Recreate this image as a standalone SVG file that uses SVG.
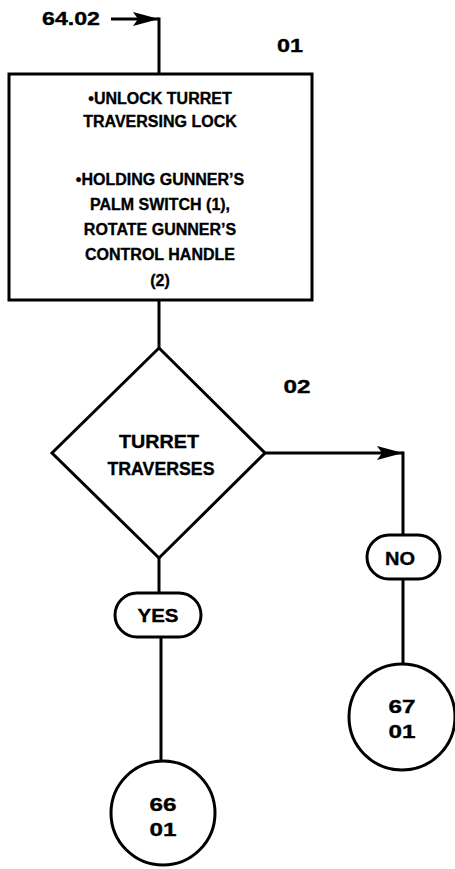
<svg xmlns="http://www.w3.org/2000/svg" width="455" height="869" viewBox="0 0 455 869">
<defs>
<style>
.ln{fill:none;stroke:#000;stroke-width:3}
.sh{fill:#fff;stroke:#000;stroke-width:3}
.t{font-family:"Liberation Sans",Arial,sans-serif;font-weight:bold;font-size:16px;fill:#000;stroke:#000;stroke-width:0.35;text-anchor:middle}
.b{font-size:18px}
</style>
<marker id="ah" viewBox="0 0 26 14" refX="26" refY="7" markerWidth="26" markerHeight="14" markerUnits="userSpaceOnUse" orient="auto">
<path d="M0,0 L26,7 L0,14 L5,7 Z" fill="#000"/>
</marker>
</defs>
<g id="connectors">
<path class="ln" d="M111,19 H159" marker-end="url(#ah)"/>
<path class="ln" d="M159,17.5 V75"/>
<path class="ln" d="M159,300 V348"/>
<path class="ln" d="M265,453 H403" marker-end="url(#ah)"/>
<path class="ln" d="M403,451.5 V535"/>
<path class="ln" d="M159,558 V593"/>
<path class="ln" d="M403,579 V663"/>
<path class="ln" d="M161,637 V761"/>
</g>
<g id="entry">
<text class="t b" x="71" y="25" textLength="58" lengthAdjust="spacingAndGlyphs">64.02</text>
</g>
<g id="step01">
<text class="t b" x="290" y="52" textLength="26" lengthAdjust="spacingAndGlyphs">01</text>
<rect class="sh" x="9" y="74" width="303" height="226"/>
<text class="t" x="160" y="104">•UNLOCK TURRET</text>
<text class="t" x="160" y="127">TRAVERSING LOCK</text>
<text class="t" x="160" y="185">•HOLDING GUNNER’S</text>
<text class="t" x="160" y="210">PALM SWITCH (1),</text>
<text class="t" x="160" y="235">ROTATE GUNNER’S</text>
<text class="t" x="160" y="260">CONTROL HANDLE</text>
<text class="t" x="160" y="286">(2)</text>
</g>
<g id="step02">
<text class="t b" x="297" y="393" textLength="27" lengthAdjust="spacingAndGlyphs">02</text>
<path class="sh" d="M159,348 L265,453 L159,558 L52,453 Z"/>
<text class="t b" x="159" y="448" textLength="80" lengthAdjust="spacingAndGlyphs">TURRET</text>
<text class="t b" x="161" y="475" textLength="107" lengthAdjust="spacingAndGlyphs">TRAVERSES</text>
</g>
<g id="no">
<rect class="sh" x="367" y="535" width="73" height="44" rx="22"/>
<text class="t b" x="400" y="565" textLength="30" lengthAdjust="spacingAndGlyphs">NO</text>
</g>
<g id="yes">
<rect class="sh" x="115" y="593" width="86" height="44" rx="22"/>
<text class="t b" x="158" y="622" textLength="41" lengthAdjust="spacingAndGlyphs">YES</text>
</g>
<g id="goto67">
<circle class="sh" cx="402" cy="717" r="53"/>
<text class="t b" x="402" y="713" textLength="27" lengthAdjust="spacingAndGlyphs">67</text>
<text class="t b" x="402" y="738" textLength="27" lengthAdjust="spacingAndGlyphs">01</text>
</g>
<g id="goto66">
<circle class="sh" cx="163" cy="813" r="52"/>
<text class="t b" x="163" y="811" textLength="27" lengthAdjust="spacingAndGlyphs">66</text>
<text class="t b" x="163" y="836" textLength="27" lengthAdjust="spacingAndGlyphs">01</text>
</g>
</svg>
